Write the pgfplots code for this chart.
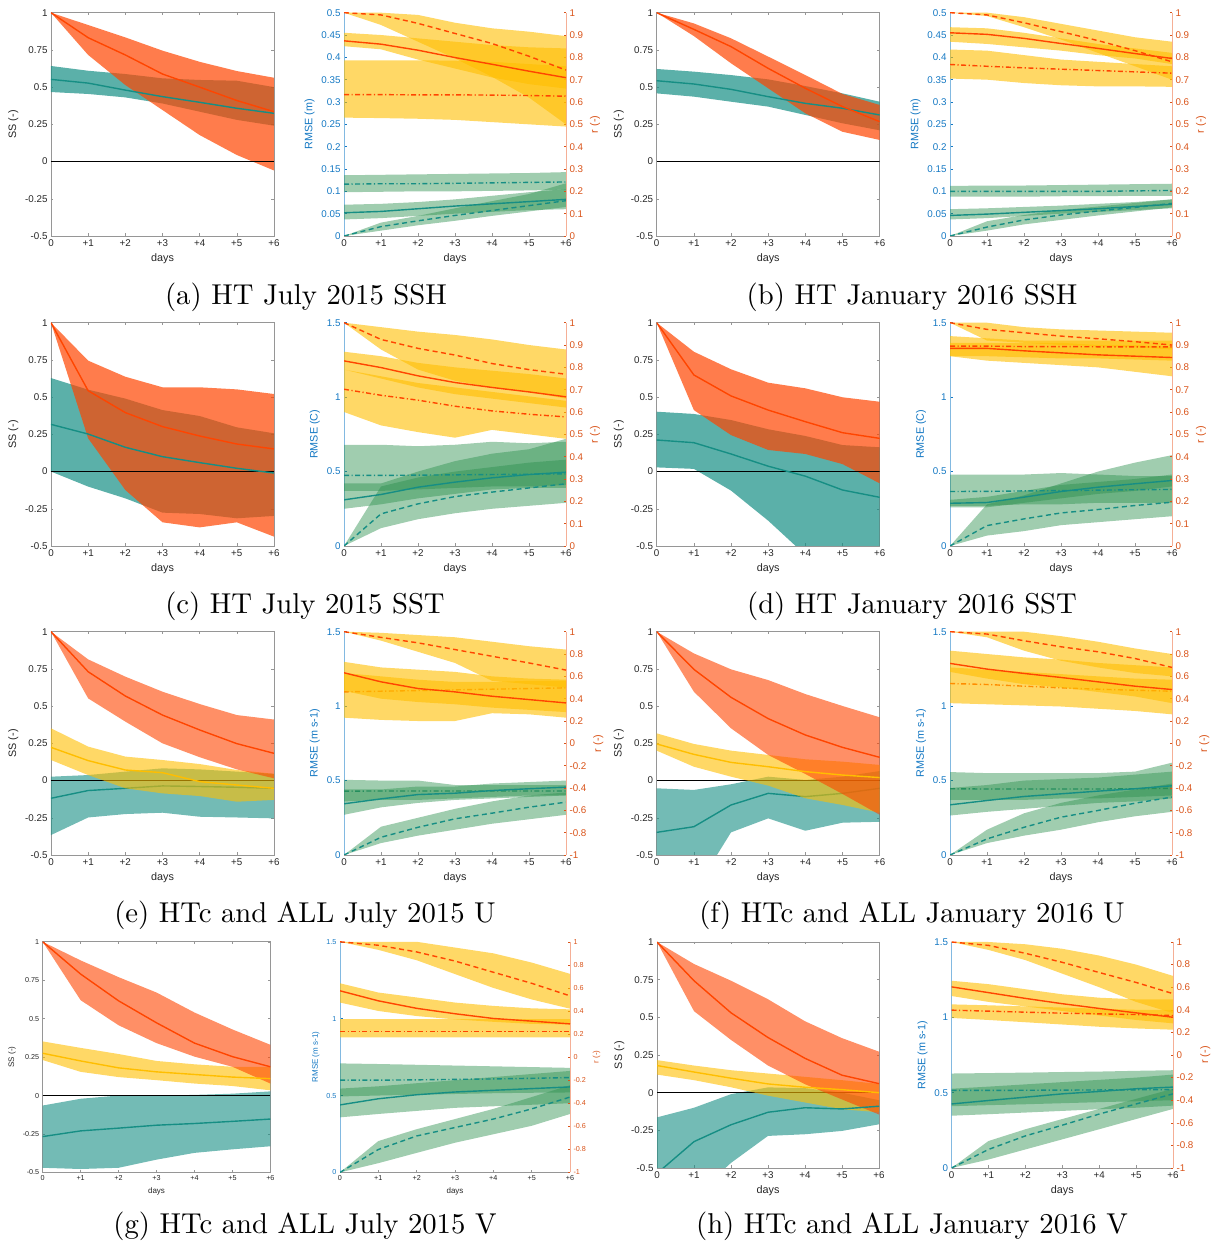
\documentclass[border=0pt]{standalone}
\usepackage{fontspec}
\setsansfont{Liberation Sans}
\usepackage{pgfplots}
\pgfplotsset{compat=1.18}

\definecolor{cR}{RGB}{255,69,0}
\definecolor{cT}{RGB}{22,142,132}
\definecolor{cY}{RGB}{255,190,0}
\definecolor{cG}{RGB}{44,144,78}
\definecolor{cBl}{RGB}{20,120,195}
\definecolor{cBlL}{RGB}{130,185,225}
\definecolor{cOr}{RGB}{217,83,25}
\definecolor{cOrL}{RGB}{245,175,150}
\definecolor{cTx}{RGB}{38,38,38}
\definecolor{cAx}{RGB}{150,150,150}

\newcommand\TF{\sffamily\fontsize{9.8}{10}\selectfont}
\newcommand\LF{\sffamily\fontsize{10.8}{12}\selectfont}
\newcommand\TFs{\sffamily\fontsize{7.2}{8}\selectfont}
\newcommand\LFs{\sffamily\fontsize{8}{9}\selectfont}
\newcommand\CF{\fontsize{10}{12}\selectfont}

\def\getL#1,#2,#3,#4,#5,#6,#7\relax{\def\La{#1}\def\Lb{#2}\def\Lc{#3}\def\Ld{#4}\def\Le{#5}\def\Lf{#6}\def\Lg{#7}}
\def\getH#1,#2,#3,#4,#5,#6,#7\relax{\def\Ha{#1}\def\Hb{#2}\def\Hc{#3}\def\Hd{#4}\def\He{#5}\def\Hf{#6}\def\Hg{#7}}
\newcommand\bandplot[2]{\addplot[#2] coordinates {#1} -- cycle;}
\newcommand\band[3]{\getL#2\relax\getH#3\relax
 \edef\tmp{(0,\La)(1,\Lb)(2,\Lc)(3,\Ld)(4,\Le)(5,\Lf)(6,\Lg)(6,\Hg)(5,\Hf)(4,\He)(3,\Hd)(2,\Hc)(1,\Hb)(0,\Ha)}%
 \expandafter\bandplot\expandafter{\tmp}{#1}}
\newcommand\serplot[2]{\addplot[#2] coordinates {#1};}
\newcommand\ser[2]{\getL#2\relax
 \edef\tmp{(0,\La)(1,\Lb)(2,\Lc)(3,\Ld)(4,\Le)(5,\Lf)(6,\Lg)}%
 \expandafter\serplot\expandafter{\tmp}{#1}}
\newcommand\zeroline{\addplot[black, line width=1pt] coordinates {(0,0)(6,0)};}

\pgfplotsset{
 lR/.style={color=cR, line width=1.4pt},
 lRd/.style={lR, dash pattern=on 5pt off 3.5pt},
 lRdd/.style={lR, dash pattern=on 5pt off 2.5pt on 1.2pt off 2.5pt},
 lT/.style={color=cT, line width=1.4pt},
 lTd/.style={lT, dash pattern=on 5pt off 3.5pt},
 lTdd/.style={lT, dash pattern=on 5pt off 2.5pt on 1.2pt off 2.5pt},
 lY/.style={color=cY, line width=1.4pt},
 bR/.style={fill=cR, fill opacity=0.7, draw=none},
 bT/.style={fill=cT, fill opacity=0.7, draw=none},
 bR6/.style={fill=cR, fill opacity=0.6, draw=none},
 bT6/.style={fill=cT, fill opacity=0.6, draw=none},
 bY/.style={fill=cY, fill opacity=0.6, draw=none},
 bG/.style={fill=cG, fill opacity=0.45, draw=none},
 base/.style={scale only axis, xmin=0, xmax=6, xtick={0,1,2,3,4,5,6},
   xticklabels={0,+1,+2,+3,+4,+5,+6}, xlabel={days},
   tick align=inside, major tick length=2.5pt,
   tick label style={font=\TF, color=cTx}, label style={font=\LF, color=cTx},
   xtick style={cAx, line width=0.5pt}, ytick style={cAx, line width=0.5pt},
   anchor=south west},
 ss/.style={base, width=223pt, height=223.3pt, ymin=-0.5, ymax=1,
   ytick={-0.5,-0.25,0,0.25,0.5,0.75,1}, yticklabels={-0.5,-0.25,0,0.25,0.5,0.75,1},
   ylabel={SS (-)}, axis line style={cAx, line width=0.6pt}},
 rl/.style={base, width=222pt, height=223.3pt, axis y line*=left, axis x line*=bottom,
   ymin=0, x axis line style={cAx, line width=0.6pt}, y axis line style={cBlL, line width=0.6pt},
   yticklabel style={color=cBl}, ylabel style={color=cBl}, ytick style={cBl, line width=0.5pt}},
 rr/.style={scale only axis, width=222pt, height=223.3pt, xmin=0, xmax=6, anchor=south west,
   axis x line=none, axis y line*=right, tick align=inside, major tick length=2.5pt,
   y axis line style={cOrL, line width=0.6pt}, ytick style={cOr, line width=0.5pt},
   tick label style={font=\TF, color=cOr}, ylabel style={font=\LF, color=cOr}, ylabel={r (-)}},
 L05/.style={ymax=0.5, ytick={0,0.05,0.1,0.15,0.2,0.25,0.3,0.35,0.4,0.45,0.5},
   yticklabels={0,0.05,0.1,0.15,0.2,0.25,0.3,0.35,0.4,0.45,0.5}},
 L15/.style={ymax=1.5, ytick={0,0.5,1,1.5}, yticklabels={0,0.5,1,1.5}},
 R01/.style={ymin=0, ymax=1, ytick={0,0.1,0.2,0.3,0.4,0.5,0.6,0.7,0.8,0.9,1},
   yticklabels={0,0.1,0.2,0.3,0.4,0.5,0.6,0.7,0.8,0.9,1}},
 R11/.style={ymin=-1, ymax=1, ytick={-1,-0.8,-0.6,-0.4,-0.2,0,0.2,0.4,0.6,0.8,1},
   yticklabels={-1,-0.8,-0.6,-0.4,-0.2,0,0.2,0.4,0.6,0.8,1}},
 small/.style={tick label style={font=\TFs}, label style={font=\LFs}},
 smallr/.style={tick label style={font=\TFs}, ylabel style={font=\LFs}},
}
\tikzset{capt/.style={anchor=base, scale=2.87, transform shape, font=\CF, inner sep=0pt}}

\begin{document}
\begin{tikzpicture}
\path[use as bounding box] (0,0) rectangle (1217pt,1243pt);

% ================= (a) =================
\begin{axis}[ss, at={(51pt,1007pt)}]
\band{bT}{0.467,0.454,0.431,0.39,0.335,0.28,0.241}{0.642,0.61,0.588,0.559,0.548,0.543,0.5}
\band{bR}{1,0.716,0.514,0.346,0.178,0.044,-0.06}{1,0.917,0.834,0.745,0.67,0.608,0.563}
\zeroline
\ser{lT}{0.552,0.527,0.48,0.436,0.398,0.358,0.324}
\ser{lR}{1,0.832,0.716,0.588,0.5,0.41,0.335}
\end{axis}
\begin{axis}[rl, L05, at={(344pt,1007pt)}, ylabel={RMSE (m)}]
\band{bG}{0.098,0.099,0.1,0.1,0.101,0.102,0.104}{0.136,0.137,0.138,0.139,0.14,0.141,0.143}
\band{bG}{0.037,0.04,0.045,0.05,0.054,0.058,0.06}{0.07,0.072,0.076,0.082,0.09,0.098,0.105}
\band{bG}{0,0.012,0.024,0.034,0.045,0.055,0.065}{0,0.03,0.045,0.062,0.078,0.094,0.118}
\ser{lTdd}{0.116,0.117,0.117,0.118,0.119,0.12,0.121}
\ser{lT}{0.052,0.055,0.061,0.067,0.072,0.077,0.082}
\ser{lTd}{0,0.021,0.034,0.046,0.057,0.068,0.079}
\end{axis}
\begin{axis}[rr, R01, at={(344pt,1007pt)}]
\band{bY}{0.53,0.528,0.525,0.52,0.51,0.5,0.49}{0.787,0.787,0.787,0.785,0.78,0.77,0.76}
\band{bY}{0.85,0.836,0.79,0.75,0.71,0.68,0.66}{0.91,0.9,0.885,0.87,0.855,0.845,0.84}
\band{bY}{1,0.945,0.87,0.795,0.713,0.62,0.5}{1,1,0.99,0.955,0.93,0.915,0.895}
\ser{lRdd}{0.633,0.633,0.632,0.632,0.631,0.629,0.626}
\ser{lR}{0.874,0.859,0.832,0.799,0.769,0.738,0.709}
\ser{lRd}{1,0.99,0.952,0.907,0.862,0.805,0.743}
\end{axis}

% ================= (b) =================
\begin{axis}[ss, at={(656.7pt,1007pt)}]
\band{bT}{0.458,0.436,0.402,0.369,0.313,0.257,0.21}{0.622,0.604,0.581,0.552,0.507,0.458,0.402}
\band{bR}{1,0.843,0.66,0.492,0.324,0.2,0.145}{1,0.928,0.828,0.705,0.581,0.454,0.38}
\zeroline
\ser{lT}{0.543,0.521,0.485,0.436,0.391,0.358,0.313}
\ser{lR}{1,0.888,0.772,0.626,0.492,0.369,0.268}
\end{axis}
\begin{axis}[rl, L05, at={(950pt,1007pt)}, ylabel={RMSE (m)}]
\band{bG}{0.088,0.088,0.088,0.089,0.089,0.09,0.09}{0.112,0.113,0.113,0.114,0.115,0.116,0.117}
\band{bG}{0.037,0.04,0.045,0.05,0.054,0.058,0.062}{0.06,0.062,0.065,0.068,0.072,0.076,0.082}
\band{bG}{0,0.012,0.026,0.036,0.046,0.055,0.064}{0,0.033,0.047,0.058,0.066,0.074,0.082}
\ser{lTdd}{0.1,0.1,0.1,0.1,0.1,0.101,0.102}
\ser{lT}{0.046,0.049,0.053,0.057,0.061,0.066,0.071}
\ser{lTd}{0,0.02,0.036,0.047,0.056,0.064,0.073}
\end{axis}
\begin{axis}[rr, R01, at={(950pt,1007pt)}]
\band{bY}{0.705,0.7,0.685,0.675,0.67,0.67,0.668}{0.835,0.83,0.81,0.79,0.78,0.77,0.76}
\band{bY}{0.87,0.86,0.845,0.83,0.81,0.795,0.77}{0.935,0.93,0.91,0.885,0.86,0.84,0.82}
\band{bY}{1,0.985,0.935,0.88,0.82,0.76,0.7}{1,1,0.98,0.95,0.92,0.89,0.87}
\ser{lRdd}{0.768,0.76,0.753,0.747,0.741,0.735,0.729}
\ser{lR}{0.91,0.903,0.885,0.862,0.84,0.817,0.795}
\ser{lRd}{1,0.99,0.955,0.915,0.875,0.83,0.78}
\end{axis}

% ================= (c) =================
\begin{axis}[ss, at={(51pt,697pt)}]
\band{bT}{0,-0.101,-0.18,-0.276,-0.285,-0.314,-0.298}{0.628,0.55,0.49,0.413,0.373,0.297,0.257}
\band{bR}{1,0.223,-0.124,-0.341,-0.375,-0.341,-0.437}{1,0.745,0.637,0.566,0.566,0.552,0.521}
\zeroline
\ser{lT}{0.317,0.252,0.163,0.1,0.06,0.022,-0.01}
\ser{lR}{1,0.543,0.396,0.302,0.239,0.185,0.152}
\end{axis}
\begin{axis}[rl, L15, at={(344pt,697pt)}, ylabel={RMSE (C)}]
\band{bG}{0.37,0.37,0.38,0.39,0.4,0.4,0.41}{0.68,0.68,0.67,0.68,0.7,0.69,0.7}
\band{bG}{0.25,0.28,0.32,0.35,0.38,0.39,0.39}{0.42,0.42,0.5,0.57,0.62,0.65,0.72}
\band{bG}{0,0.12,0.18,0.22,0.25,0.27,0.29}{0,0.4,0.46,0.5,0.53,0.56,0.58}
\ser{lTdd}{0.474,0.474,0.476,0.478,0.48,0.482,0.485}
\ser{lT}{0.31,0.346,0.395,0.429,0.458,0.48,0.496}
\ser{lTd}{0,0.216,0.283,0.332,0.362,0.39,0.418}
\end{axis}
\begin{axis}[rr, R01, at={(344pt,697pt)}]
\band{bY}{0.6,0.54,0.51,0.485,0.52,0.5,0.48}{0.79,0.76,0.73,0.71,0.69,0.67,0.65}
\band{bY}{0.79,0.75,0.71,0.68,0.66,0.64,0.62}{0.87,0.85,0.82,0.8,0.785,0.77,0.75}
\band{bY}{1,0.88,0.79,0.74,0.71,0.69,0.66}{1,0.98,0.96,0.945,0.925,0.9,0.88}
\ser{lRdd}{0.702,0.675,0.653,0.626,0.605,0.59,0.578}
\ser{lR}{0.829,0.799,0.762,0.732,0.71,0.69,0.668}
\ser{lRd}{1,0.925,0.885,0.855,0.817,0.79,0.769}
\end{axis}

% ================= (d) =================
\begin{axis}[ss, at={(656.7pt,697pt)}]
\band{bT}{0.028,0.018,-0.128,-0.33,-0.56,-0.75,-0.9}{0.402,0.387,0.346,0.284,0.239,0.178,0.163}
\band{bR}{1,0.413,0.245,0.145,0.118,0.05,-0.079}{1,0.805,0.687,0.597,0.559,0.499,0.469}
\zeroline
\ser{lT}{0.212,0.194,0.118,0.036,-0.031,-0.124,-0.173}
\ser{lR}{1,0.649,0.508,0.413,0.335,0.261,0.223}
\end{axis}
\begin{axis}[rl, L15, at={(950pt,697pt)}, ylabel={RMSE (C)}]
\band{bG}{0.27,0.27,0.28,0.28,0.29,0.29,0.29}{0.48,0.48,0.48,0.49,0.48,0.47,0.47}
\band{bG}{0.26,0.26,0.29,0.32,0.35,0.37,0.4}{0.31,0.33,0.37,0.41,0.43,0.45,0.48}
\band{bG}{0,0.07,0.1,0.14,0.16,0.18,0.2}{0,0.28,0.34,0.42,0.5,0.56,0.61}
\ser{lTdd}{0.366,0.367,0.37,0.372,0.375,0.378,0.38}
\ser{lT}{0.287,0.292,0.328,0.366,0.395,0.418,0.44}
\ser{lTd}{0,0.137,0.182,0.222,0.245,0.272,0.294}
\end{axis}
\begin{axis}[rr, R01, at={(950pt,697pt)}]
\band{bY}{0.85,0.85,0.845,0.84,0.84,0.835,0.83}{0.94,0.93,0.92,0.92,0.92,0.92,0.92}
\band{bY}{0.85,0.83,0.82,0.81,0.8,0.78,0.76}{0.91,0.91,0.91,0.91,0.9,0.9,0.89}
\band{bY}{1,0.92,0.91,0.9,0.895,0.89,0.88}{1,1,0.98,0.97,0.965,0.96,0.955}
\ser{lRdd}{0.895,0.895,0.893,0.893,0.892,0.892,0.892}
\ser{lR}{0.885,0.885,0.874,0.865,0.856,0.85,0.844}
\ser{lRd}{1,0.97,0.955,0.94,0.928,0.915,0.9}
\end{axis}

% ================= (e) =================
\begin{axis}[ss, at={(51pt,388pt)}]
\band{bT6}{-0.366,-0.248,-0.225,-0.216,-0.243,-0.248,-0.254}{0.026,0.037,0.06,0.082,0.075,0.06,0.045}
\zeroline
\ser{lT}{-0.119,-0.067,-0.052,-0.036,-0.04,-0.045,-0.052}
\band{bY}{0.138,0.037,-0.052,-0.086,-0.104,-0.142,-0.13}{0.351,0.228,0.161,0.138,0.111,0.071,0.045}
\band{bR6}{1,0.552,0.396,0.25,0.157,0.075,0.015}{1,0.814,0.698,0.597,0.514,0.44,0.41}
\ser{lY}{0.223,0.134,0.071,0.053,-0.007,-0.03,-0.052}
\ser{lR}{1,0.731,0.568,0.44,0.34,0.248,0.183}
\end{axis}
\begin{axis}[rl, L15, at={(344pt,388pt)}, ylabel={RMSE (m s-1)}]
\ser{lTdd}{0.429,0.43,0.43,0.43,0.43,0.43,0.43}
\band{bG}{0.36,0.37,0.37,0.38,0.39,0.4,0.4}{0.505,0.5,0.5,0.47,0.47,0.47,0.47}
\band{bG}{0.27,0.32,0.35,0.37,0.38,0.39,0.4}{0.44,0.44,0.46,0.46,0.48,0.49,0.5}
\band{bG}{0,0.08,0.13,0.17,0.21,0.24,0.27}{0,0.19,0.25,0.31,0.36,0.4,0.42}
\ser{lT}{0.344,0.377,0.406,0.415,0.433,0.445,0.456}
\ser{lTd}{0,0.119,0.186,0.243,0.281,0.321,0.355}
\end{axis}
\begin{axis}[rr, R11, at={(344pt,388pt)}]
\ser{lRdd}{0.461,0.467,0.473,0.479,0.485,0.491,0.497}
\band{bY}{0.23,0.21,0.2,0.2,0.27,0.26,0.23}{0.63,0.6,0.57,0.55,0.55,0.56,0.56}
\band{bY}{0.47,0.4,0.37,0.35,0.32,0.3,0.28}{0.73,0.68,0.66,0.64,0.6,0.58,0.57}
\band{bY}{1,0.92,0.82,0.72,0.56,0.53,0.5}{1,0.99,0.97,0.95,0.91,0.87,0.84}
\ser{lR}{0.632,0.551,0.491,0.461,0.422,0.392,0.362}
\ser{lRd}{1,0.949,0.9,0.84,0.78,0.72,0.656}
\end{axis}

% ================= (f) =================
\begin{axis}[ss, at={(656.7pt,388pt)}]
\band{bT6}{-0.55,-0.75,-0.348,-0.254,-0.337,-0.283,-0.277}{-0.052,-0.063,-0.025,0.026,0.004,0.026,0.064}
\zeroline
\ser{lT}{-0.348,-0.31,-0.164,-0.086,-0.108,-0.086,-0.052}
\band{bY}{0.201,0.093,0.026,-0.034,-0.119,-0.164,-0.216}{0.317,0.246,0.201,0.172,0.143,0.127,0.105}
\band{bR6}{1,0.597,0.351,0.172,0.044,-0.09,-0.23}{1,0.854,0.747,0.675,0.581,0.501,0.425}
\ser{lY}{0.246,0.176,0.122,0.093,0.06,0.037,0.02}
\ser{lR}{1,0.747,0.559,0.416,0.306,0.223,0.156}
\end{axis}
\begin{axis}[rl, L15, at={(950pt,388pt)}, ylabel={RMSE (m s-1)}]
\ser{lTdd}{0.445,0.443,0.443,0.443,0.443,0.445,0.448}
\band{bG}{0.37,0.37,0.37,0.38,0.38,0.39,0.4}{0.557,0.55,0.55,0.55,0.55,0.56,0.62}
\band{bG}{0.265,0.29,0.31,0.33,0.35,0.36,0.38}{0.45,0.47,0.5,0.51,0.52,0.54,0.56}
\band{bG}{0,0.08,0.13,0.17,0.22,0.26,0.29}{0,0.17,0.28,0.35,0.4,0.44,0.48}
\ser{lT}{0.337,0.366,0.393,0.411,0.429,0.445,0.465}
\ser{lTd}{0,0.108,0.186,0.254,0.299,0.348,0.389}
\end{axis}
\begin{axis}[rr, R11, at={(950pt,388pt)}]
\ser{lRdd}{0.536,0.527,0.512,0.497,0.485,0.476,0.467}
\band{bY}{0.36,0.35,0.34,0.33,0.31,0.29,0.26}{0.68,0.66,0.64,0.62,0.6,0.58,0.57}
\band{bY}{0.64,0.58,0.53,0.5,0.46,0.42,0.36}{0.83,0.8,0.77,0.75,0.72,0.7,0.68}
\band{bY}{1,0.95,0.83,0.74,0.68,0.63,0.6}{1,1,1,0.96,0.91,0.85,0.8}
\ser{lR}{0.716,0.665,0.626,0.59,0.551,0.512,0.482}
\ser{lRd}{1,0.979,0.919,0.865,0.82,0.76,0.68}
\end{axis}

% ================= (g) =================
\begin{axis}[ss, small, width=227.7pt, height=230.6pt, at={(42.7pt,70.6pt)}]
\band{bT6}{-0.47,-0.478,-0.47,-0.417,-0.373,-0.35,-0.33}{-0.065,-0.021,0,0,0.004,0.012,0.027}
\zeroline
\band{bY}{0.231,0.154,0.12,0.1,0.078,0.062,0.034}{0.352,0.31,0.27,0.225,0.203,0.187,0.187}
\band{bR6}{1,0.62,0.457,0.341,0.253,0.187,0.078}{1,0.879,0.77,0.67,0.54,0.43,0.33}
\ser{lT}{-0.267,-0.23,-0.212,-0.193,-0.182,-0.168,-0.153}
\ser{lY}{0.275,0.225,0.18,0.154,0.137,0.12,0.11}
\ser{lR}{1,0.79,0.616,0.473,0.341,0.253,0.187}
\end{axis}
\begin{axis}[rl, L15, small, width=230pt, height=230.6pt, at={(340pt,70.6pt)}, ylabel={RMSE (m s-1)}]
\band{bG}{0.494,0.5,0.505,0.51,0.515,0.518,0.52}{0.709,0.705,0.7,0.695,0.69,0.685,0.68}
\band{bG}{0.358,0.38,0.4,0.42,0.43,0.44,0.45}{0.545,0.56,0.58,0.6,0.62,0.64,0.66}
\band{bG}{0,0.06,0.127,0.193,0.248,0.303,0.38}{0,0.204,0.281,0.347,0.413,0.49,0.567}
\ser{lTdd}{0.6,0.6,0.602,0.605,0.608,0.612,0.617}
\ser{lT}{0.439,0.479,0.505,0.523,0.534,0.545,0.556}
\ser{lTd}{0,0.149,0.237,0.292,0.347,0.413,0.49}
\end{axis}
\begin{axis}[rr, R11, smallr, width=230pt, height=230.6pt, at={(340pt,70.6pt)}]
\band{bY}{0.17,0.17,0.17,0.17,0.17,0.17,0.17}{0.33,0.33,0.33,0.33,0.33,0.33,0.33}
\band{bY}{0.473,0.4,0.356,0.327,0.306,0.288,0.283}{0.64,0.56,0.517,0.473,0.444,0.423,0.414}
\band{bY}{1,0.93,0.84,0.72,0.6,0.5,0.42}{1,1,1,0.95,0.9,0.82,0.722}
\ser{lRdd}{0.224,0.224,0.224,0.224,0.224,0.224,0.224}
\ser{lR}{0.575,0.488,0.423,0.376,0.335,0.312,0.288}
\ser{lRd}{1,0.97,0.912,0.833,0.736,0.64,0.531}
\end{axis}

% ================= (h) =================
\begin{axis}[ss, width=222pt, height=226pt, at={(657pt,75pt)}]
\band{bT6}{-1,-0.69,-0.466,-0.287,-0.276,-0.254,-0.21}{-0.164,-0.1,-0.01,0.035,0.03,0,-0.05}
\zeroline
\band{bY}{0.12,0.083,0.036,-0.02,-0.065,-0.11,-0.13}{0.216,0.18,0.149,0.127,0.105,0.083,0.058}
\band{bR6}{1,0.541,0.35,0.18,0.056,-0.045,-0.145}{1,0.854,0.743,0.62,0.474,0.362,0.272}
\ser{lT}{-0.536,-0.325,-0.213,-0.13,-0.1,-0.108,-0.09}
\ser{lY}{0.18,0.137,0.096,0.058,0.036,0.02,0}
\ser{lR}{1,0.743,0.53,0.366,0.228,0.116,0.06}
\end{axis}
\begin{axis}[rl, L15, width=221.5pt, height=226pt, at={(951.5pt,75pt)}, ylabel={RMSE (m s-1)}]
\band{bG}{0.41,0.417,0.423,0.43,0.437,0.443,0.45}{0.627,0.63,0.633,0.637,0.64,0.645,0.649}
\band{bG}{0.347,0.357,0.368,0.379,0.39,0.4,0.414}{0.526,0.54,0.555,0.57,0.585,0.6,0.62}
\band{bG}{0,0.056,0.123,0.19,0.257,0.325,0.392}{0,0.179,0.257,0.325,0.392,0.459,0.526}
\ser{lTdd}{0.515,0.515,0.516,0.517,0.518,0.519,0.52}
\ser{lT}{0.425,0.448,0.47,0.492,0.508,0.526,0.537}
\ser{lTd}{0,0.123,0.213,0.284,0.358,0.425,0.492}
\end{axis}
\begin{axis}[rr, R11, width=221.5pt, height=226pt, at={(951.5pt,75pt)}]
\band{bY}{0.328,0.31,0.29,0.27,0.25,0.235,0.224}{0.448,0.44,0.43,0.42,0.41,0.4,0.4}
\band{bY}{0.522,0.47,0.43,0.39,0.35,0.31,0.28}{0.657,0.627,0.582,0.537,0.507,0.493,0.493}
\band{bY}{1,0.93,0.84,0.72,0.6,0.47,0.37}{1,1,0.98,0.94,0.88,0.8,0.7}
\ser{lRdd}{0.397,0.388,0.379,0.37,0.364,0.358,0.349}
\ser{lR}{0.603,0.552,0.501,0.454,0.412,0.373,0.334}
\ser{lRd}{1,0.97,0.9,0.82,0.73,0.642,0.543}
\end{axis}

% ================= captions =================
\node[capt] at (306pt,938pt) {(a) HT July 2015 SSH};
\node[capt] at (912pt,938pt) {(b) HT January 2016 SSH};
\node[capt] at (305pt,629pt) {(c) HT July 2015 SST};
\node[capt] at (912pt,629pt) {(d) HT January 2016 SST};
\node[capt] at (305pt,320pt) {(e) HTc and ALL July 2015 U};
\node[capt] at (912pt,320pt) {(f) HTc and ALL January 2016 U};
\node[capt] at (305pt,9pt) {(g) HTc and ALL July 2015 V};
\node[capt] at (912pt,9pt) {(h) HTc and ALL January 2016 V};
\end{tikzpicture}
\end{document}
